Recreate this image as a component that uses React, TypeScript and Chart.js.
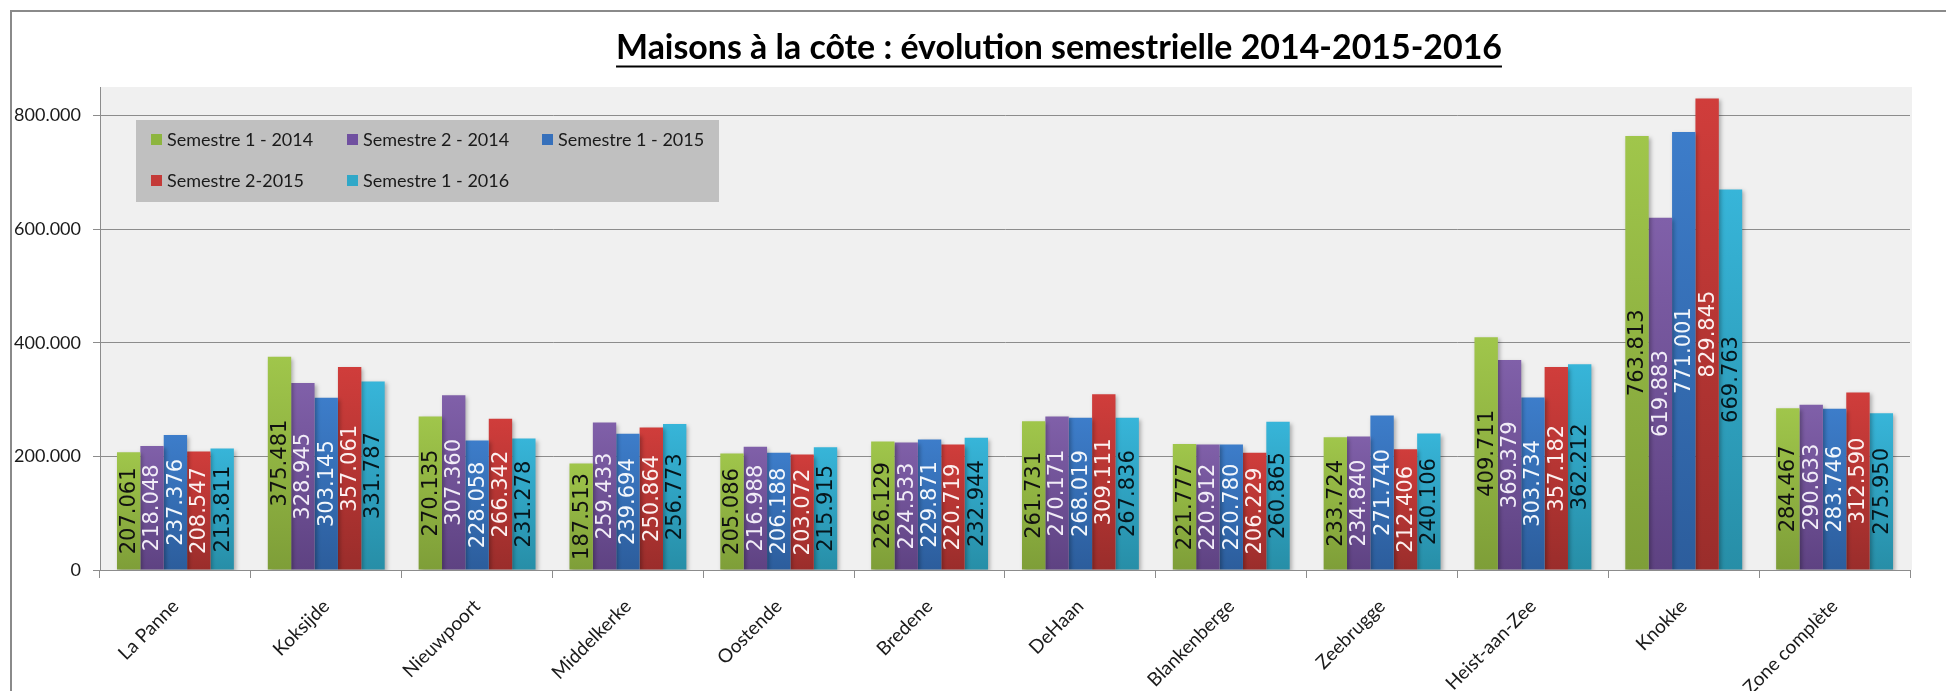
import React, { useEffect, useRef } from 'react';
import { Chart, registerables } from 'chart.js';

Chart.register(...registerables);

const TITLE = 'Maisons à la côte : évolution semestrielle 2014-2015-2016';

const CATEGORIES = [
  'La Panne', 'Koksijde', 'Nieuwpoort', 'Middelkerke', 'Oostende', 'Bredene',
  'DeHaan', 'Blankenberge', 'Zeebrugge', 'Heist-aan-Zee', 'Knokke', 'Zone complète',
];

const SERIES_LABELS = [
  'Semestre 1 - 2014', 'Semestre 2 - 2014', 'Semestre 1 - 2015', 'Semestre 2-2015', 'Semestre 1 - 2016',
];

const S1_2014 = [207061, 375481, 270135, 187513, 205086, 226129, 261731, 221777, 233724, 409711, 763813, 284467];
const S2_2014 = [218048, 328945, 307360, 259433, 216988, 224533, 270171, 220912, 234840, 369379, 619883, 290633];
const S1_2015 = [237376, 303145, 228058, 239694, 206188, 229871, 268019, 220780, 271740, 303734, 771001, 283746];
const S2_2015 = [208547, 357061, 266342, 250864, 203072, 220719, 309111, 206229, 212406, 357182, 829845, 312590];
const S1_2016 = [213811, 331787, 231278, 256773, 215915, 232944, 267836, 260865, 240106, 362212, 669763, 275950];

const SERIES = [S1_2014, S2_2014, S1_2015, S2_2015, S1_2016];

const Y_TICKS = [0, 200000, 400000, 600000, 800000];
const Y_MIN = 0;
const Y_MAX = 850000;

const TOP_COLORS = ['#a0c64b', '#8060a9', '#3d7dca', '#d03d3b', '#37b5d9'];
const BOTTOM_COLORS = ['#7e9e38', '#5e4282', '#2c5d9c', '#9a2d2b', '#278ea7'];
const LEGEND_COLORS = ['#8db53f', '#7050a0', '#3670bb', '#c43a38', '#30a8c8'];
const LABEL_COLORS = ['#111111', '#f1ecf7', '#f3f7fc', '#fcf0f0', '#06161c'];

const GRID = '#8c8c8c';
const TEXT = '#1a1a1a';

function fmt(v: number): string {
  return Math.round(v).toString().replace(/\B(?=(\d{3})+(?!\d))/g, '.');
}

function barGradient(ctx: any, i: number) {
  const chart = ctx.chart;
  if (ctx.type !== 'data' || !chart.chartArea) return LEGEND_COLORS[i];
  const y = chart.scales.y;
  if (!y) return LEGEND_COLORS[i];
  const top = y.getPixelForValue(ctx.raw);
  const base = y.getPixelForValue(0);
  if (!isFinite(top) || !isFinite(base) || Math.abs(base - top) < 1) return LEGEND_COLORS[i];
  const g = chart.ctx.createLinearGradient(0, top, 0, base);
  g.addColorStop(0, TOP_COLORS[i]);
  g.addColorStop(1, BOTTOM_COLORS[i]);
  return g;
}

const framePlugin = {
  id: 'frame',
  beforeDraw(chart: any) {
    const { ctx, width, height, chartArea } = chart;
    ctx.save();
    ctx.fillStyle = '#ffffff';
    ctx.fillRect(0, 0, width, height);
    ctx.fillStyle = '#f0f0f0';
    ctx.fillRect(chartArea.left, chartArea.top, chartArea.right - chartArea.left + 2, chartArea.bottom - chartArea.top);
    ctx.fillStyle = '#8a8a8a';
    ctx.fillRect(10, 10, width - 10, 2);
    ctx.fillRect(10, 10, 2, height - 10);
    ctx.restore();
  },
};

const shadowPlugin = {
  id: 'barShadow',
  beforeDatasetsDraw(chart: any) {
    const ctx = chart.ctx;
    ctx.save();
    ctx.shadowColor = 'rgba(0,0,0,0.28)';
    ctx.shadowBlur = 4;
    ctx.shadowOffsetX = 2;
    ctx.shadowOffsetY = 2;
  },
  afterDatasetsDraw(chart: any) {
    chart.ctx.restore();
  },
};

const valueLabelPlugin = {
  id: 'valueLabels',
  afterDraw(chart: any) {
    const ctx = chart.ctx;
    ctx.save();
    ctx.font = '21px "DejaVu Sans"';
    ctx.textAlign = 'center';
    ctx.textBaseline = 'middle';
    chart.data.datasets.forEach((ds: any, di: number) => {
      const meta = chart.getDatasetMeta(di);
      meta.data.forEach((el: any, idx: number) => {
        const v = ds.data[idx];
        const cy = (el.y + el.base) / 2;
        ctx.save();
        ctx.translate(el.x, cy);
        ctx.rotate(-Math.PI / 2);
        ctx.fillStyle = LABEL_COLORS[di];
        ctx.fillText(fmt(v), 0, 1);
        ctx.restore();
      });
    });
    ctx.restore();
  },
};

const titlePlugin = {
  id: 'underlinedTitle',
  afterDraw(chart: any) {
    const ctx = chart.ctx;
    const targetWidth = 886;
    const cx = 1059;
    const baseline = 59;
    ctx.save();
    ctx.font = 'bold 34px Lato';
    const w0 = ctx.measureText(TITLE).width;
    const size = (34 * targetWidth) / w0;
    ctx.font = `bold ${size.toFixed(2)}px Lato`;
    const w = ctx.measureText(TITLE).width;
    ctx.fillStyle = '#000000';
    ctx.textAlign = 'center';
    ctx.textBaseline = 'alphabetic';
    ctx.fillText(TITLE, cx, baseline);
    ctx.fillRect(cx - w / 2, 65.5, w, 2);
    ctx.restore();
  },
};

const legendPlugin = {
  id: 'boxLegend',
  afterDraw(chart: any) {
    const ctx = chart.ctx;
    const box = { x: 136, y: 120, w: 583, h: 82 };
    const cols = [151, 347, 542];
    const rows = [140, 181];
    ctx.save();
    ctx.fillStyle = '#c0c0c0';
    ctx.fillRect(box.x, box.y, box.w, box.h);
    ctx.font = '18px Lato';
    ctx.textAlign = 'left';
    ctx.textBaseline = 'middle';
    chart.data.datasets.forEach((ds: any, i: number) => {
      const col = i < 3 ? cols[i] : cols[i - 3];
      const row = i < 3 ? rows[0] : rows[1];
      ctx.fillStyle = LEGEND_COLORS[i];
      ctx.fillRect(col, row - 6, 11, 11);
      ctx.fillStyle = TEXT;
      ctx.fillText(ds.label, col + 16, row);
    });
    ctx.restore();
  },
};

export default function App() {
  const ref = useRef<HTMLCanvasElement | null>(null);

  useEffect(() => {
    if (!ref.current) return;
    const chart = new Chart(ref.current, {
      type: 'bar',
      data: {
        labels: CATEGORIES,
        datasets: SERIES.map((d, i) => ({
          label: SERIES_LABELS[i],
          data: d,
          backgroundColor: (c: any) => barGradient(c, i),
          borderWidth: 0,
          categoryPercentage: 0.775,
          barPercentage: 1,
        })),
      },
      options: {
        responsive: false,
        animation: false,
        devicePixelRatio: 1,
        layout: { padding: { left: 8, right: 36, top: 87, bottom: 0 } },
        plugins: {
          legend: { display: false },
          title: { display: false },
          tooltip: { enabled: false },
        },
        scales: {
          x: {
            grid: {
              display: true,
              drawOnChartArea: false,
              drawTicks: true,
              tickLength: 8,
              color: GRID,
              offset: true,
            },
            border: { display: true, color: GRID, width: 1 },
            ticks: {
              font: { family: 'Lato', size: 19 },
              color: TEXT,
              maxRotation: 45,
              minRotation: 45,
              autoSkip: false,
              padding: 17,
            },
            afterFit: (s: any) => {
              s.height = 121;
            },
          },
          y: {
            min: Y_MIN,
            max: Y_MAX,
            afterBuildTicks: (axis: any) => {
              axis.ticks = Y_TICKS.map((v) => ({ value: v }));
            },
            grid: { color: GRID, tickLength: 7, drawTicks: true, lineWidth: 1 },
            border: { display: true, color: GRID, width: 1 },
            ticks: {
              font: { family: 'Lato', size: 18 },
              color: TEXT,
              padding: 12,
              callback: (v: any) => fmt(Number(v)),
            },
            afterFit: (s: any) => {
              s.width = 92;
            },
          },
        },
      },
      plugins: [framePlugin, shadowPlugin, valueLabelPlugin, titlePlugin, legendPlugin],
    });
    return () => chart.destroy();
  }, []);

  return (
    <div style={{ position: 'fixed', left: 0, top: 0, width: 1946, height: 691, background: '#ffffff' }}>
      <canvas ref={ref} width={1946} height={691} style={{ display: 'block', width: 1946, height: 691 }} />
    </div>
  );
}
